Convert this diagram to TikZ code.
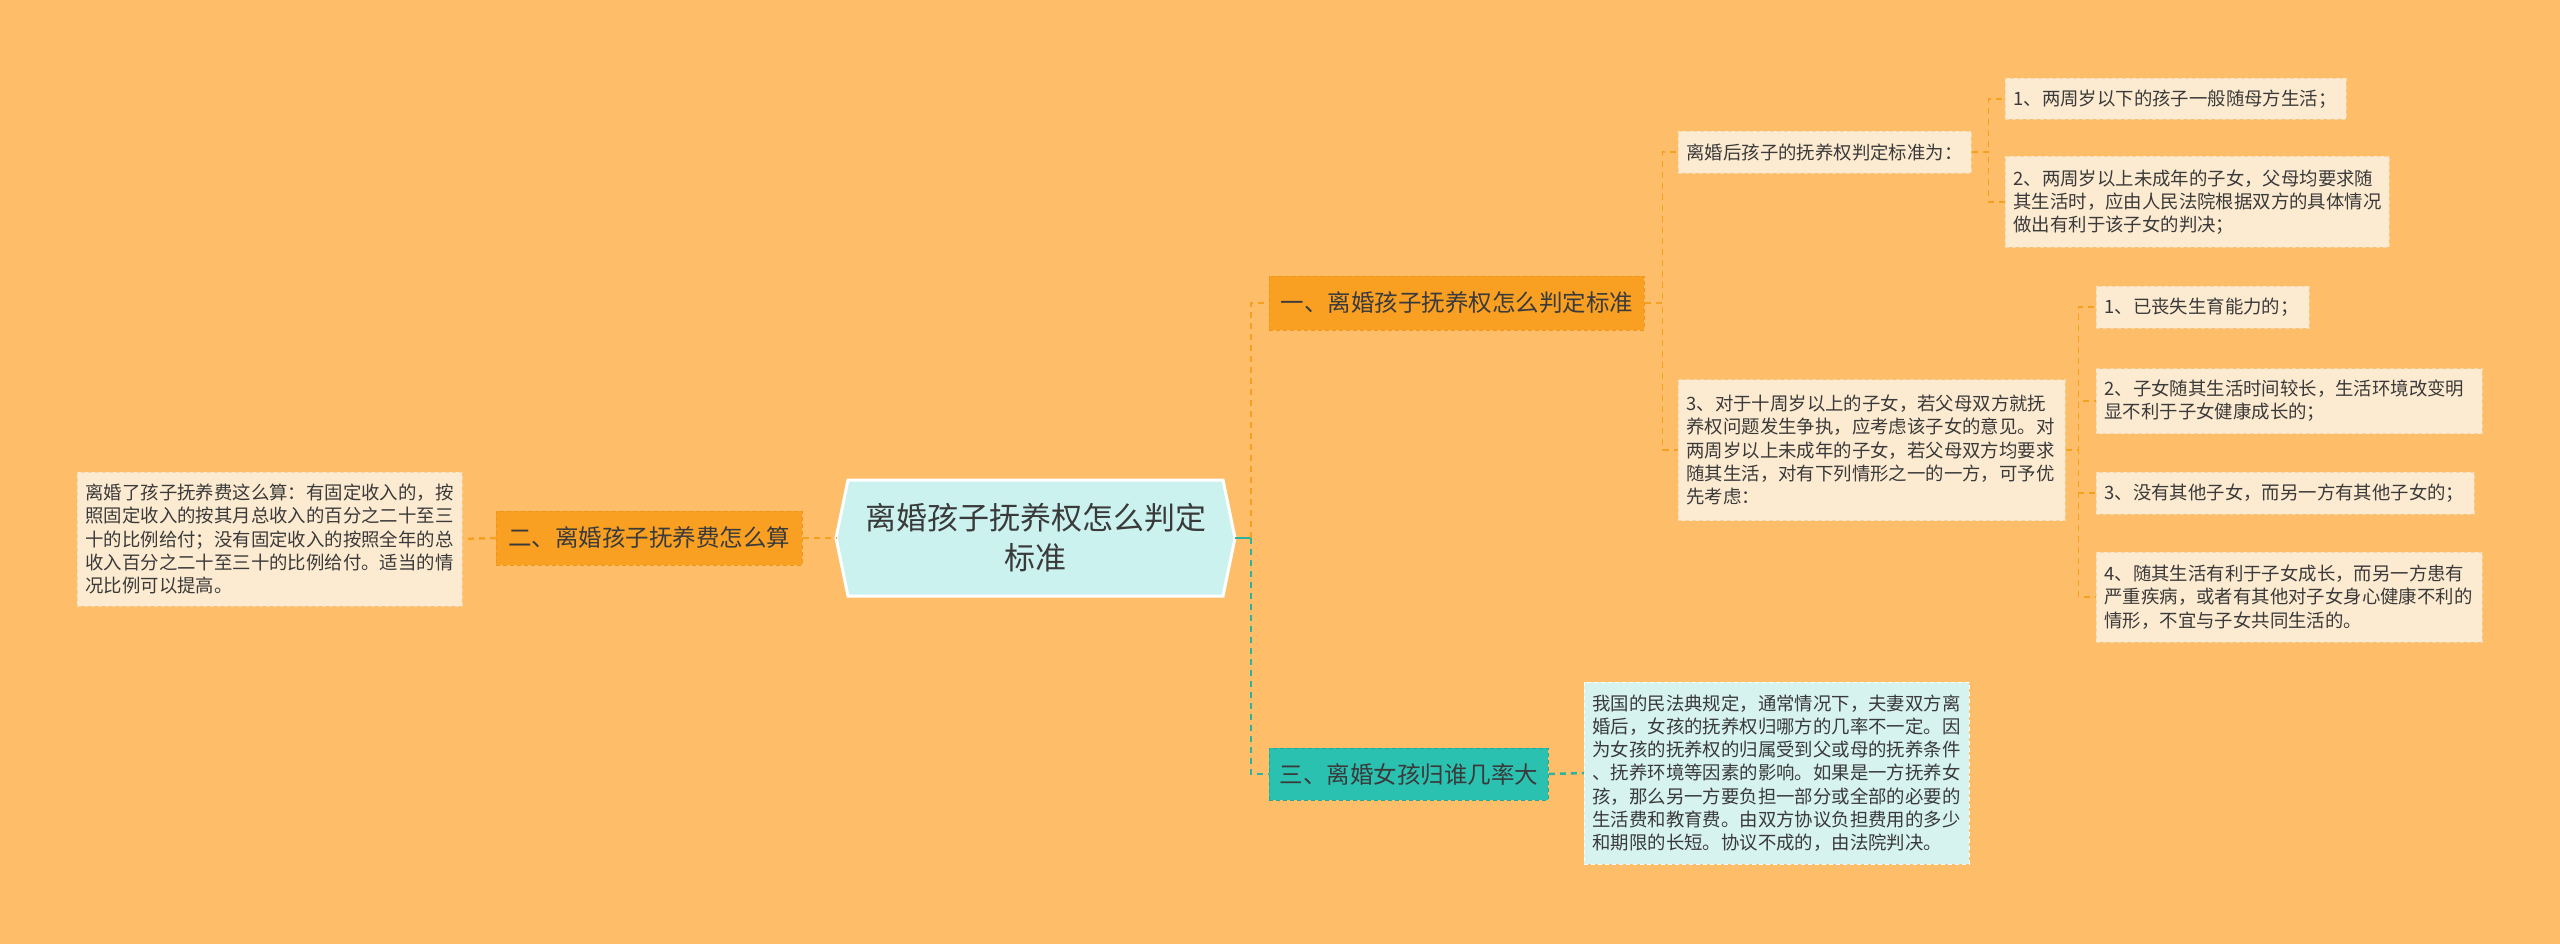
\documentclass[tikz,border=0pt]{standalone}
\usepackage{fontspec}
\setmainfont{Noto Sans CJK SC}
\definecolor{bg}{HTML}{FEBE69}
\definecolor{brfill}{HTML}{F9A023}
\definecolor{brdraw}{HTML}{EE951A}
\definecolor{leaffill}{HTML}{FDEBD1}
\definecolor{leafdraw}{HTML}{F6D6A6}
\definecolor{rootfill}{HTML}{CBF2EF}
\definecolor{tealfill}{HTML}{2BC1B1}
\definecolor{tealdraw}{HTML}{22A898}
\definecolor{tealleaf}{HTML}{D6F3F0}
\definecolor{linkor}{HTML}{F5A01E}
\definecolor{linkteal}{HTML}{2BB39F}
\definecolor{txt}{HTML}{3A3A3A}
\begin{document}
\begin{tikzpicture}[x=1pt,y=-1pt,
  branch/.style={fill=brfill,draw=brdraw,dashed,dash pattern=on 4pt off 3pt,line width=0.8pt,inner xsep=8pt,inner ysep=2pt,anchor=west,text=txt,font=\fontsize{23.5}{28}\selectfont},
  leaf/.style={fill=leaffill,draw=leafdraw,dash pattern=on 4pt off 3pt,line width=0.8pt,inner xsep=8pt,inner ysep=2pt,anchor=west,align=left,text=txt,font=\fontsize{18.4}{23.2}\selectfont},
  mainlink/.style={draw=linkor,line width=2.5pt,dash pattern=on 6pt off 5pt},
  teallink/.style={draw=linkteal,line width=2.5pt,dash pattern=on 6pt off 5pt},
  leaflink/.style={draw=linkor,line width=1.3pt,dash pattern=on 6pt off 5pt}]
\fill[bg] (0,0) rectangle (2560,944);
\useasboundingbox (0,0) rectangle (2560,944);
% root hexagon
\coordinate (rootL) at (836,538);
\coordinate (rootR) at (1235,538);
\fill[rootfill,draw=white,line width=3pt] (rootL) -- (848,480) -- (1223,480) -- (rootR) -- (1223,596) -- (848,596) -- cycle;
\node[align=center,text=txt,font=\fontsize{31}{40}\selectfont] (root) at (1035.5,538) {离婚孩子抚养权怎么判定\\标准};
% branches
\node[branch,minimum width=375pt,minimum height=54pt] (b1) at (1269,303) {一、离婚孩子抚养权怎么判定标准};
\node[branch,minimum width=306pt,minimum height=54pt] (b2) at (496,538) {二、离婚孩子抚养费怎么算};
\node[branch,fill=tealfill,draw=tealdraw,minimum width=279pt,minimum height=52pt] (b3) at (1269,774) {三、离婚女孩归谁几率大};
% leaves
\node[leaf,text width=369pt,minimum height=134pt] (L2) at (77,539) {离婚了孩子抚养费这么算：有固定收入的，按\\照固定收入的按其月总收入的百分之二十至三\\十的比例给付；没有固定收入的按照全年的总\\收入百分之二十至三十的比例给付。适当的情\\况比例可以提高。};
\node[leaf,fill=tealleaf,draw=white,text width=369pt,minimum height=182pt] (L3) at (1584,773) {我国的民法典规定，通常情况下，夫妻双方离\\婚后，女孩的抚养权归哪方的几率不一定。因\\为女孩的抚养权的归属受到父或母的抚养条件\\、抚养环境等因素的影响。如果是一方抚养女\\孩，那么另一方要负担一部分或全部的必要的\\生活费和教育费。由双方协议负担费用的多少\\和期限的长短。协议不成的，由法院判决。};
\node[leaf,text width=277pt,minimum height=42pt] (A) at (1678,152) {离婚后孩子的抚养权判定标准为：};
\node[leaf,text width=371pt,minimum height=141pt] (B) at (1678,450) {3、对于十周岁以上的子女，若父母双方就抚\\养权问题发生争执，应考虑该子女的意见。对\\两周岁以上未成年的子女，若父母双方均要求\\随其生活，对有下列情形之一的一方，可予优\\先考虑：};
\node[leaf,text width=325pt,minimum height=41pt] (A1) at (2005,99) {1、两周岁以下的孩子一般随母方生活；};
\node[leaf,text width=368pt,minimum height=91pt] (A2) at (2005,202) {2、两周岁以上未成年的子女，父母均要求随\\其生活时，应由人民法院根据双方的具体情况\\做出有利于该子女的判决；};
\node[leaf,text width=197pt,minimum height=42pt] (B1) at (2096,307) {1、已丧失生育能力的；};
\node[leaf,text width=370pt,minimum height=65pt] (B2) at (2096,401) {2、子女随其生活时间较长，生活环境改变明\\显不利于子女健康成长的；};
\node[leaf,text width=362pt,minimum height=42pt] (B3) at (2096,493) {3、没有其他子女，而另一方有其他子女的；};
\node[leaf,text width=370pt,minimum height=90pt] (B4) at (2096,597) {4、随其生活有利于子女成长，而另一方患有\\严重疾病，或者有其他对子女身心健康不利的\\情形，不宜与子女共同生活的。};
% connectors
\coordinate (J) at (1251,538);
\draw[draw=linkteal,line width=2.5pt] (rootR) -- (J);
\draw[mainlink] (J) |- (b1.west);
\draw[teallink] (J) |- (b3.west);
\draw[mainlink] (b2.east) -- (rootL);
\draw[mainlink] (b2.west) -- (L2.east);
\draw[teallink] (b3.east) -- (L3.west);
\draw[leaflink] (b1.east) -- ++(18,0) |- (A.west);
\draw[leaflink] (b1.east) -- ++(18,0) |- (B.west);
\draw[leaflink] (A.east) -- ++(17,0) |- (A1.west);
\draw[leaflink] (A.east) -- ++(17,0) |- (A2.west);
\draw[leaflink] (B.east) -- ++(13,0) |- (B1.west);
\draw[leaflink] (B.east) -- ++(13,0) |- (B2.west);
\draw[leaflink] (B.east) -- ++(13,0) |- (B3.west);
\draw[leaflink] (B.east) -- ++(13,0) |- (B4.west);
\end{tikzpicture}
\end{document}
